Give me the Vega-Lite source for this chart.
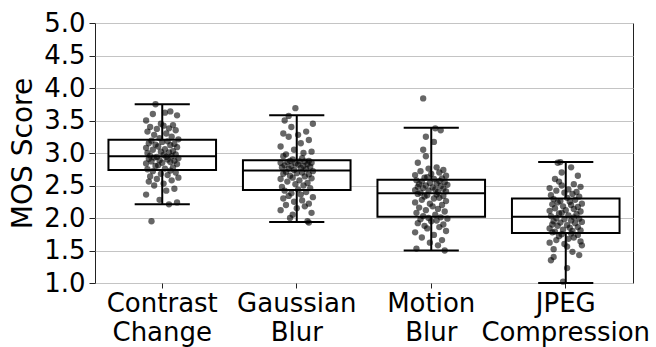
{
"$schema":"https://vega.github.io/schema/vega-lite/v6.json",
"width":538,"height":260,
"autosize":"none",
"padding":{"left":95,"top":23,"right":23,"bottom":64},
"config":{"font":"DejaVu Sans","view":{"stroke":"#222","strokeWidth":1},
 "axis":{"labelFont":"DejaVu Sans","titleFont":"DejaVu Sans","labelColor":"black","titleColor":"black","labelFontSize":26,"titleFontSize":28,"titleFontWeight":"normal","tickColor":"#222","domain":false,"labelOverlap":false},
 "axisY":{"grid":true,"gridColor":"#c4c4c4","gridWidth":1,"tickSize":6,"labelPadding":4,"titlePadding":6,"labelOverlap":false}},
"resolve":{"scale":{"xOffset":"independent"}},
"datasets":{
"box":[
{"c":"Contrast Change","lo":2.21,"q1":2.74,"med":2.95,"q3":3.205,"hi":3.75},
{"c":"Gaussian Blur","lo":1.94,"q1":2.43,"med":2.73,"q3":2.89,"hi":3.58},
{"c":"Motion Blur","lo":1.5,"q1":2.02,"med":2.38,"q3":2.59,"hi":3.39},
{"c":"JPEG Compression","lo":1.0,"q1":1.77,"med":2.02,"q3":2.3,"hi":2.86}
],
"pts":[
{"c":"Contrast Change","v":1.95,"j":-0.08},{"c":"Contrast Change","v":2.21,"j":0.05},{"c":"Contrast Change","v":2.24,"j":0.11},{"c":"Contrast Change","v":2.28,"j":-0.02},{"c":"Contrast Change","v":2.36,"j":-0.12},{"c":"Contrast Change","v":2.42,"j":0.03},{"c":"Contrast Change","v":2.45,"j":0.09},{"c":"Contrast Change","v":2.5,"j":-0.06},{"c":"Contrast Change","v":2.53,"j":0.01},{"c":"Contrast Change","v":2.56,"j":-0.1},{"c":"Contrast Change","v":2.58,"j":0.07},{"c":"Contrast Change","v":2.6,"j":-0.04},{"c":"Contrast Change","v":2.62,"j":0.12},{"c":"Contrast Change","v":2.64,"j":-0.09},{"c":"Contrast Change","v":2.66,"j":0.04},{"c":"Contrast Change","v":2.68,"j":-0.01},{"c":"Contrast Change","v":2.7,"j":0.1},{"c":"Contrast Change","v":2.72,"j":-0.07},{"c":"Contrast Change","v":2.73,"j":0.06},
{"c":"Contrast Change","v":2.75,"j":-0.11},{"c":"Contrast Change","v":2.76,"j":0.02},{"c":"Contrast Change","v":2.78,"j":0.08},{"c":"Contrast Change","v":2.8,"j":-0.05},{"c":"Contrast Change","v":2.81,"j":-0.03},{"c":"Contrast Change","v":2.83,"j":0.11},{"c":"Contrast Change","v":2.84,"j":-0.12},{"c":"Contrast Change","v":2.85,"j":0.0},{"c":"Contrast Change","v":2.86,"j":0.06},{"c":"Contrast Change","v":2.87,"j":-0.08},{"c":"Contrast Change","v":2.88,"j":0.09},{"c":"Contrast Change","v":2.89,"j":-0.02},{"c":"Contrast Change","v":2.9,"j":0.04},{"c":"Contrast Change","v":2.91,"j":-0.1},{"c":"Contrast Change","v":2.92,"j":0.12},{"c":"Contrast Change","v":2.93,"j":-0.06},{"c":"Contrast Change","v":2.94,"j":0.03},{"c":"Contrast Change","v":2.94,"j":-0.04},{"c":"Contrast Change","v":2.95,"j":0.07},
{"c":"Contrast Change","v":2.96,"j":-0.09},{"c":"Contrast Change","v":2.97,"j":0.01},{"c":"Contrast Change","v":2.98,"j":0.1},{"c":"Contrast Change","v":3.0,"j":-0.11},{"c":"Contrast Change","v":3.01,"j":0.05},{"c":"Contrast Change","v":3.02,"j":-0.01},{"c":"Contrast Change","v":3.03,"j":0.08},{"c":"Contrast Change","v":3.05,"j":-0.07},{"c":"Contrast Change","v":3.06,"j":0.02},{"c":"Contrast Change","v":3.08,"j":-0.12},{"c":"Contrast Change","v":3.09,"j":0.11},{"c":"Contrast Change","v":3.1,"j":-0.03},{"c":"Contrast Change","v":3.12,"j":0.06},{"c":"Contrast Change","v":3.13,"j":-0.05},{"c":"Contrast Change","v":3.14,"j":0.09},{"c":"Contrast Change","v":3.15,"j":-0.1},{"c":"Contrast Change","v":3.17,"j":0.0},{"c":"Contrast Change","v":3.18,"j":0.04},{"c":"Contrast Change","v":3.19,"j":-0.08},
{"c":"Contrast Change","v":3.21,"j":0.12},{"c":"Contrast Change","v":3.23,"j":-0.02},{"c":"Contrast Change","v":3.25,"j":0.07},{"c":"Contrast Change","v":3.28,"j":-0.06},{"c":"Contrast Change","v":3.3,"j":0.03},{"c":"Contrast Change","v":3.33,"j":-0.11},{"c":"Contrast Change","v":3.35,"j":0.1},{"c":"Contrast Change","v":3.37,"j":-0.04},{"c":"Contrast Change","v":3.38,"j":0.05},{"c":"Contrast Change","v":3.4,"j":-0.09},{"c":"Contrast Change","v":3.42,"j":0.01},{"c":"Contrast Change","v":3.43,"j":0.08},{"c":"Contrast Change","v":3.45,"j":-0.01},{"c":"Contrast Change","v":3.5,"j":-0.12},{"c":"Contrast Change","v":3.58,"j":0.11},{"c":"Contrast Change","v":3.6,"j":-0.07},{"c":"Contrast Change","v":3.62,"j":0.02},{"c":"Contrast Change","v":3.64,"j":0.06},{"c":"Contrast Change","v":3.75,"j":-0.05},

{"c":"Gaussian Blur","v":1.93,"j":0.09},{"c":"Gaussian Blur","v":1.95,"j":0.08},{"c":"Gaussian Blur","v":2.0,"j":-0.05},{"c":"Gaussian Blur","v":2.05,"j":-0.03},{"c":"Gaussian Blur","v":2.08,"j":0.11},{"c":"Gaussian Blur","v":2.12,"j":-0.12},{"c":"Gaussian Blur","v":2.15,"j":0.0},{"c":"Gaussian Blur","v":2.18,"j":0.06},{"c":"Gaussian Blur","v":2.2,"j":-0.08},{"c":"Gaussian Blur","v":2.22,"j":0.09},{"c":"Gaussian Blur","v":2.25,"j":-0.02},{"c":"Gaussian Blur","v":2.27,"j":0.04},{"c":"Gaussian Blur","v":2.3,"j":-0.1},{"c":"Gaussian Blur","v":2.32,"j":0.12},{"c":"Gaussian Blur","v":2.34,"j":-0.06},{"c":"Gaussian Blur","v":2.36,"j":0.03},{"c":"Gaussian Blur","v":2.38,"j":-0.04},{"c":"Gaussian Blur","v":2.4,"j":0.07},{"c":"Gaussian Blur","v":2.42,"j":-0.09},
{"c":"Gaussian Blur","v":2.44,"j":0.01},{"c":"Gaussian Blur","v":2.46,"j":0.1},{"c":"Gaussian Blur","v":2.48,"j":-0.11},{"c":"Gaussian Blur","v":2.5,"j":0.05},{"c":"Gaussian Blur","v":2.52,"j":-0.01},{"c":"Gaussian Blur","v":2.54,"j":0.08},{"c":"Gaussian Blur","v":2.56,"j":-0.07},{"c":"Gaussian Blur","v":2.58,"j":0.02},{"c":"Gaussian Blur","v":2.6,"j":-0.12},{"c":"Gaussian Blur","v":2.61,"j":0.11},{"c":"Gaussian Blur","v":2.62,"j":-0.03},{"c":"Gaussian Blur","v":2.64,"j":0.06},{"c":"Gaussian Blur","v":2.65,"j":-0.05},{"c":"Gaussian Blur","v":2.67,"j":0.09},{"c":"Gaussian Blur","v":2.68,"j":-0.1},{"c":"Gaussian Blur","v":2.69,"j":0.0},{"c":"Gaussian Blur","v":2.7,"j":0.04},{"c":"Gaussian Blur","v":2.71,"j":-0.08},{"c":"Gaussian Blur","v":2.72,"j":0.12},
{"c":"Gaussian Blur","v":2.74,"j":-0.02},{"c":"Gaussian Blur","v":2.75,"j":0.07},{"c":"Gaussian Blur","v":2.76,"j":-0.06},{"c":"Gaussian Blur","v":2.77,"j":0.03},{"c":"Gaussian Blur","v":2.78,"j":-0.11},{"c":"Gaussian Blur","v":2.79,"j":0.1},{"c":"Gaussian Blur","v":2.8,"j":-0.04},{"c":"Gaussian Blur","v":2.8,"j":0.05},{"c":"Gaussian Blur","v":2.81,"j":-0.09},{"c":"Gaussian Blur","v":2.82,"j":0.01},{"c":"Gaussian Blur","v":2.83,"j":0.08},{"c":"Gaussian Blur","v":2.84,"j":-0.01},{"c":"Gaussian Blur","v":2.85,"j":-0.12},{"c":"Gaussian Blur","v":2.85,"j":0.11},{"c":"Gaussian Blur","v":2.86,"j":-0.07},{"c":"Gaussian Blur","v":2.87,"j":0.02},{"c":"Gaussian Blur","v":2.87,"j":0.06},{"c":"Gaussian Blur","v":2.88,"j":-0.05},{"c":"Gaussian Blur","v":2.88,"j":0.09},
{"c":"Gaussian Blur","v":2.9,"j":-0.03},{"c":"Gaussian Blur","v":2.92,"j":0.04},{"c":"Gaussian Blur","v":2.95,"j":-0.1},{"c":"Gaussian Blur","v":2.98,"j":-0.08},{"c":"Gaussian Blur","v":3.0,"j":0.05},{"c":"Gaussian Blur","v":3.02,"j":0.11},{"c":"Gaussian Blur","v":3.05,"j":-0.02},{"c":"Gaussian Blur","v":3.1,"j":-0.12},{"c":"Gaussian Blur","v":3.15,"j":0.03},{"c":"Gaussian Blur","v":3.2,"j":0.09},{"c":"Gaussian Blur","v":3.25,"j":-0.06},{"c":"Gaussian Blur","v":3.28,"j":0.01},{"c":"Gaussian Blur","v":3.3,"j":-0.1},{"c":"Gaussian Blur","v":3.33,"j":0.07},{"c":"Gaussian Blur","v":3.4,"j":-0.04},{"c":"Gaussian Blur","v":3.45,"j":0.12},{"c":"Gaussian Blur","v":3.5,"j":-0.09},{"c":"Gaussian Blur","v":3.57,"j":-0.06},{"c":"Gaussian Blur","v":3.69,"j":-0.01},

{"c":"Motion Blur","v":1.5,"j":0.1},{"c":"Motion Blur","v":1.53,"j":-0.11},{"c":"Motion Blur","v":1.58,"j":0.05},{"c":"Motion Blur","v":1.62,"j":-0.01},{"c":"Motion Blur","v":1.66,"j":0.08},{"c":"Motion Blur","v":1.7,"j":-0.07},{"c":"Motion Blur","v":1.74,"j":0.02},{"c":"Motion Blur","v":1.78,"j":-0.12},{"c":"Motion Blur","v":1.8,"j":0.11},{"c":"Motion Blur","v":1.84,"j":-0.03},{"c":"Motion Blur","v":1.86,"j":0.06},{"c":"Motion Blur","v":1.88,"j":-0.05},{"c":"Motion Blur","v":1.9,"j":0.09},{"c":"Motion Blur","v":1.92,"j":-0.1},{"c":"Motion Blur","v":1.95,"j":0.0},{"c":"Motion Blur","v":1.96,"j":0.04},{"c":"Motion Blur","v":1.98,"j":-0.08},{"c":"Motion Blur","v":1.99,"j":0.12},{"c":"Motion Blur","v":2.0,"j":-0.02},{"c":"Motion Blur","v":2.01,"j":0.07},
{"c":"Motion Blur","v":2.03,"j":-0.06},{"c":"Motion Blur","v":2.05,"j":0.03},{"c":"Motion Blur","v":2.08,"j":-0.11},{"c":"Motion Blur","v":2.1,"j":0.1},{"c":"Motion Blur","v":2.12,"j":-0.04},{"c":"Motion Blur","v":2.14,"j":0.05},{"c":"Motion Blur","v":2.16,"j":-0.09},{"c":"Motion Blur","v":2.18,"j":0.01},{"c":"Motion Blur","v":2.2,"j":0.08},{"c":"Motion Blur","v":2.22,"j":-0.01},{"c":"Motion Blur","v":2.24,"j":-0.12},{"c":"Motion Blur","v":2.26,"j":0.11},{"c":"Motion Blur","v":2.28,"j":-0.07},{"c":"Motion Blur","v":2.3,"j":0.02},{"c":"Motion Blur","v":2.31,"j":0.06},{"c":"Motion Blur","v":2.33,"j":-0.05},{"c":"Motion Blur","v":2.34,"j":0.09},{"c":"Motion Blur","v":2.35,"j":-0.03},{"c":"Motion Blur","v":2.36,"j":0.04},{"c":"Motion Blur","v":2.37,"j":-0.1},
{"c":"Motion Blur","v":2.39,"j":-0.08},{"c":"Motion Blur","v":2.4,"j":0.05},{"c":"Motion Blur","v":2.41,"j":0.11},{"c":"Motion Blur","v":2.42,"j":-0.02},{"c":"Motion Blur","v":2.43,"j":-0.12},{"c":"Motion Blur","v":2.44,"j":0.03},{"c":"Motion Blur","v":2.45,"j":0.09},{"c":"Motion Blur","v":2.46,"j":-0.06},{"c":"Motion Blur","v":2.47,"j":0.01},{"c":"Motion Blur","v":2.48,"j":-0.1},{"c":"Motion Blur","v":2.49,"j":0.07},{"c":"Motion Blur","v":2.5,"j":-0.04},{"c":"Motion Blur","v":2.51,"j":0.12},{"c":"Motion Blur","v":2.52,"j":-0.09},{"c":"Motion Blur","v":2.53,"j":0.04},{"c":"Motion Blur","v":2.54,"j":-0.01},{"c":"Motion Blur","v":2.55,"j":0.1},{"c":"Motion Blur","v":2.56,"j":-0.07},{"c":"Motion Blur","v":2.57,"j":0.06},{"c":"Motion Blur","v":2.58,"j":-0.11},
{"c":"Motion Blur","v":2.6,"j":0.02},{"c":"Motion Blur","v":2.61,"j":0.08},{"c":"Motion Blur","v":2.62,"j":-0.05},{"c":"Motion Blur","v":2.63,"j":-0.03},{"c":"Motion Blur","v":2.65,"j":0.11},{"c":"Motion Blur","v":2.66,"j":-0.12},{"c":"Motion Blur","v":2.68,"j":0.0},{"c":"Motion Blur","v":2.7,"j":0.06},{"c":"Motion Blur","v":2.72,"j":-0.08},{"c":"Motion Blur","v":2.74,"j":0.09},{"c":"Motion Blur","v":2.76,"j":-0.02},{"c":"Motion Blur","v":2.78,"j":0.04},{"c":"Motion Blur","v":2.85,"j":-0.1},{"c":"Motion Blur","v":2.95,"j":-0.04},{"c":"Motion Blur","v":3.05,"j":-0.06},{"c":"Motion Blur","v":3.17,"j":0.02},{"c":"Motion Blur","v":3.25,"j":-0.04},{"c":"Motion Blur","v":3.35,"j":0.07},{"c":"Motion Blur","v":3.38,"j":0.03},{"c":"Motion Blur","v":3.84,"j":-0.06},

{"c":"JPEG Compression","v":1.02,"j":-0.02},{"c":"JPEG Compression","v":1.23,"j":0.01},{"c":"JPEG Compression","v":1.35,"j":-0.11},{"c":"JPEG Compression","v":1.4,"j":-0.09},{"c":"JPEG Compression","v":1.43,"j":0.1},{"c":"JPEG Compression","v":1.48,"j":0.05},{"c":"JPEG Compression","v":1.52,"j":-0.09},{"c":"JPEG Compression","v":1.56,"j":0.01},{"c":"JPEG Compression","v":1.58,"j":0.12},{"c":"JPEG Compression","v":1.6,"j":-0.01},{"c":"JPEG Compression","v":1.62,"j":-0.12},{"c":"JPEG Compression","v":1.64,"j":0.11},{"c":"JPEG Compression","v":1.66,"j":-0.07},{"c":"JPEG Compression","v":1.68,"j":0.02},{"c":"JPEG Compression","v":1.7,"j":0.06},{"c":"JPEG Compression","v":1.72,"j":-0.05},{"c":"JPEG Compression","v":1.74,"j":0.09},{"c":"JPEG Compression","v":1.75,"j":-0.03},{"c":"JPEG Compression","v":1.76,"j":0.04},
{"c":"JPEG Compression","v":1.78,"j":-0.1},{"c":"JPEG Compression","v":1.79,"j":-0.08},{"c":"JPEG Compression","v":1.8,"j":0.05},{"c":"JPEG Compression","v":1.81,"j":0.11},{"c":"JPEG Compression","v":1.82,"j":-0.02},{"c":"JPEG Compression","v":1.84,"j":-0.12},{"c":"JPEG Compression","v":1.85,"j":0.03},{"c":"JPEG Compression","v":1.86,"j":0.09},{"c":"JPEG Compression","v":1.88,"j":-0.06},{"c":"JPEG Compression","v":1.89,"j":0.01},{"c":"JPEG Compression","v":1.9,"j":-0.1},{"c":"JPEG Compression","v":1.92,"j":0.07},{"c":"JPEG Compression","v":1.93,"j":-0.04},{"c":"JPEG Compression","v":1.94,"j":0.12},{"c":"JPEG Compression","v":1.95,"j":-0.09},{"c":"JPEG Compression","v":1.96,"j":0.04},{"c":"JPEG Compression","v":1.98,"j":-0.01},{"c":"JPEG Compression","v":1.99,"j":0.1},{"c":"JPEG Compression","v":2.0,"j":-0.07},{"c":"JPEG Compression","v":2.01,"j":0.06},
{"c":"JPEG Compression","v":2.03,"j":-0.11},{"c":"JPEG Compression","v":2.04,"j":0.02},{"c":"JPEG Compression","v":2.06,"j":0.08},{"c":"JPEG Compression","v":2.07,"j":-0.05},{"c":"JPEG Compression","v":2.08,"j":-0.03},{"c":"JPEG Compression","v":2.1,"j":0.11},{"c":"JPEG Compression","v":2.11,"j":-0.12},{"c":"JPEG Compression","v":2.12,"j":0.0},{"c":"JPEG Compression","v":2.14,"j":0.06},{"c":"JPEG Compression","v":2.15,"j":-0.08},{"c":"JPEG Compression","v":2.17,"j":0.09},{"c":"JPEG Compression","v":2.18,"j":-0.02},{"c":"JPEG Compression","v":2.2,"j":0.04},{"c":"JPEG Compression","v":2.21,"j":-0.1},{"c":"JPEG Compression","v":2.22,"j":0.12},{"c":"JPEG Compression","v":2.24,"j":-0.06},{"c":"JPEG Compression","v":2.25,"j":0.03},{"c":"JPEG Compression","v":2.26,"j":-0.04},{"c":"JPEG Compression","v":2.28,"j":0.07},{"c":"JPEG Compression","v":2.29,"j":-0.09},
{"c":"JPEG Compression","v":2.31,"j":0.01},{"c":"JPEG Compression","v":2.33,"j":0.1},{"c":"JPEG Compression","v":2.35,"j":-0.11},{"c":"JPEG Compression","v":2.37,"j":0.05},{"c":"JPEG Compression","v":2.39,"j":-0.01},{"c":"JPEG Compression","v":2.4,"j":0.08},{"c":"JPEG Compression","v":2.42,"j":-0.07},{"c":"JPEG Compression","v":2.44,"j":0.02},{"c":"JPEG Compression","v":2.46,"j":-0.12},{"c":"JPEG Compression","v":2.48,"j":0.11},{"c":"JPEG Compression","v":2.5,"j":-0.03},{"c":"JPEG Compression","v":2.52,"j":0.06},{"c":"JPEG Compression","v":2.56,"j":-0.05},{"c":"JPEG Compression","v":2.6,"j":-0.08},{"c":"JPEG Compression","v":2.65,"j":0.09},{"c":"JPEG Compression","v":2.7,"j":-0.03},{"c":"JPEG Compression","v":2.78,"j":0.04},{"c":"JPEG Compression","v":2.85,"j":-0.06},{"c":"JPEG Compression","v":2.86,"j":-0.04}
]},
"encoding":{
 "x":{"field":"c","type":"nominal","sort":["Contrast Change","Gaussian Blur","Motion Blur","JPEG Compression"],
  "scale":{"domain":["Contrast Change","Gaussian Blur","Motion Blur","JPEG Compression"],"paddingInner":0,"paddingOuter":0},
  "axis":{"title":null,"labelAngle":0,"labelExpr":"split(datum.label,' ')","labelLineHeight":29,"tickSize":5,"labelPadding":2,"grid":false}}
},
"layer":[
 {"data":{"name":"box"},"mark":{"type":"bar","width":{"band":0.8},"fill":"white","stroke":"black","strokeWidth":2},
  "encoding":{"y":{"field":"q1","type":"quantitative","scale":{"domain":[1,5],"nice":false,"zero":false},
   "axis":{"title":"MOS Score","values":[1,1.5,2,2.5,3,3.5,4,4.5,5],"format":".1f"}},
   "y2":{"field":"q3"}}},
 {"data":{"name":"box"},"mark":{"type":"bar","width":{"band":0.8},"fill":"white","stroke":"black","strokeWidth":2},
  "encoding":{"y":{"field":"med","type":"quantitative","axis":{"title":"MOS Score","values":[1,1.5,2,2.5,3,3.5,4,4.5,5],"format":".1f"}},"y2":{"field":"med"}}},
 {"data":{"name":"box"},"mark":{"type":"rule","stroke":"black","strokeWidth":2},
  "encoding":{"y":{"field":"lo","type":"quantitative","axis":{"title":"MOS Score","values":[1,1.5,2,2.5,3,3.5,4,4.5,5],"format":".1f"}},"y2":{"field":"q1"}}},
 {"data":{"name":"box"},"mark":{"type":"rule","stroke":"black","strokeWidth":2},
  "encoding":{"y":{"field":"q3","type":"quantitative","axis":{"title":"MOS Score","values":[1,1.5,2,2.5,3,3.5,4,4.5,5],"format":".1f"}},"y2":{"field":"hi"}}},
 {"data":{"name":"box"},"mark":{"type":"bar","width":{"band":0.41},"fill":"black","stroke":"black","strokeWidth":2},
  "encoding":{"y":{"field":"lo","type":"quantitative","axis":{"title":"MOS Score","values":[1,1.5,2,2.5,3,3.5,4,4.5,5],"format":".1f"}},"y2":{"field":"lo"}}},
 {"data":{"name":"box"},"mark":{"type":"bar","width":{"band":0.41},"fill":"black","stroke":"black","strokeWidth":2},
  "encoding":{"y":{"field":"hi","type":"quantitative","axis":{"title":"MOS Score","values":[1,1.5,2,2.5,3,3.5,4,4.5,5],"format":".1f"}},"y2":{"field":"hi"}}},
 {"data":{"name":"pts"},"mark":{"type":"circle","color":"black","opacity":0.6,"size":40},
  "encoding":{"y":{"field":"v","type":"quantitative","axis":{"title":"MOS Score","values":[1,1.5,2,2.5,3,3.5,4,4.5,5],"format":".1f"}},
   "xOffset":{"field":"j","type":"quantitative","scale":{"domain":[-0.5,0.5],"range":[0,134.5]}}}}
]
}
